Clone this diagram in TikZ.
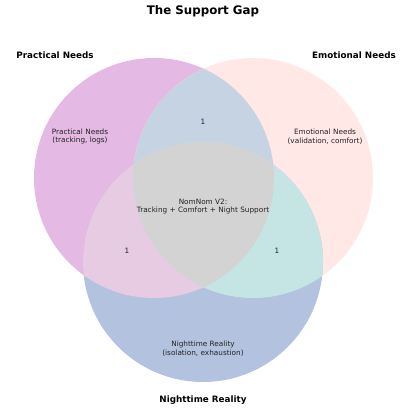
\documentclass[tikz,border=0pt]{standalone}
\usepackage{fontspec}
\setmainfont{DejaVu Sans}
\definecolor{practfill}{HTML}{E4BAE4}
\definecolor{emofill}{HTML}{FFE8E6}
\definecolor{nightfill}{HTML}{B3C3DF}
\definecolor{practemo}{HTML}{C6D3E3}
\definecolor{practnight}{HTML}{E6CBE2}
\definecolor{emonight}{HTML}{C4E5E3}
\definecolor{allthree}{HTML}{D3D3D3}
\definecolor{labeltext}{HTML}{222222}
\usetikzlibrary{positioning}

\begin{document}
\begin{tikzpicture}[x=1pt, y=1pt,
				heading/.style={font=\bfseries\fontsize{8.8}{10}\selectfont, text=black},
				region/.style={font=\fontsize{7.3}{8.6}\selectfont, text=labeltext, align=center},
				count/.style={font=\fontsize{7.3}{8.6}\selectfont, text=labeltext}
			]
			\useasboundingbox (0,0) rectangle (406,417);
			\def\practical{(154,239) circle (120pt)}
			\def\emotional{(253,239) circle (120pt)}
			\def\nighttime{(203,155) circle (120pt)}

			% Single sets
			\fill[practfill] \practical;
			\fill[emofill] \emotional;
			\fill[nightfill] \nighttime;

			% Pairwise overlaps
			\begin{scope}
				\clip \practical;
				\fill[practemo] \emotional;
			\end{scope}
			\begin{scope}
				\clip \practical;
				\fill[practnight] \nighttime;
			\end{scope}
			\begin{scope}
				\clip \emotional;
				\fill[emonight] \nighttime;
			\end{scope}

			% Centre
			\begin{scope}
				\clip \practical;
				\clip \emotional;
				\fill[allthree] \nighttime;
			\end{scope}

			% Titles
			\node[font=\bfseries\fontsize{11.8}{13}\selectfont] (title) at (203,405.5) {The Support Gap};
			\node[heading] (practhead) at (55,361.5) {Practical Needs};
			\node[heading] (emohead) at (354,361.5) {Emotional Needs};
			\node[heading] (nighthead) at (203,16.5) {Nighttime Reality};

			% Region labels
			\node[region] (practlbl) at (80,280.5) {Practical Needs\\(tracking, logs)};
			\node[region] (emolbl) at (325,280.5) {Emotional Needs\\(validation, comfort)};
			\node[region] (nightlbl) at (203,68.5) {Nighttime Reality\\(isolation, exhaustion)};
			\node[region] (core) at (203,210.5) {NomNom V2:\\Tracking + Comfort + Night Support};

			\node[count] (practemonum) at (203,295.5) {1};
			\node[count] (practnightnum) at (127,166.5) {1};
			\node[count] (emonightnum) at (277,166.5) {1};
		\end{tikzpicture}
\end{document}
